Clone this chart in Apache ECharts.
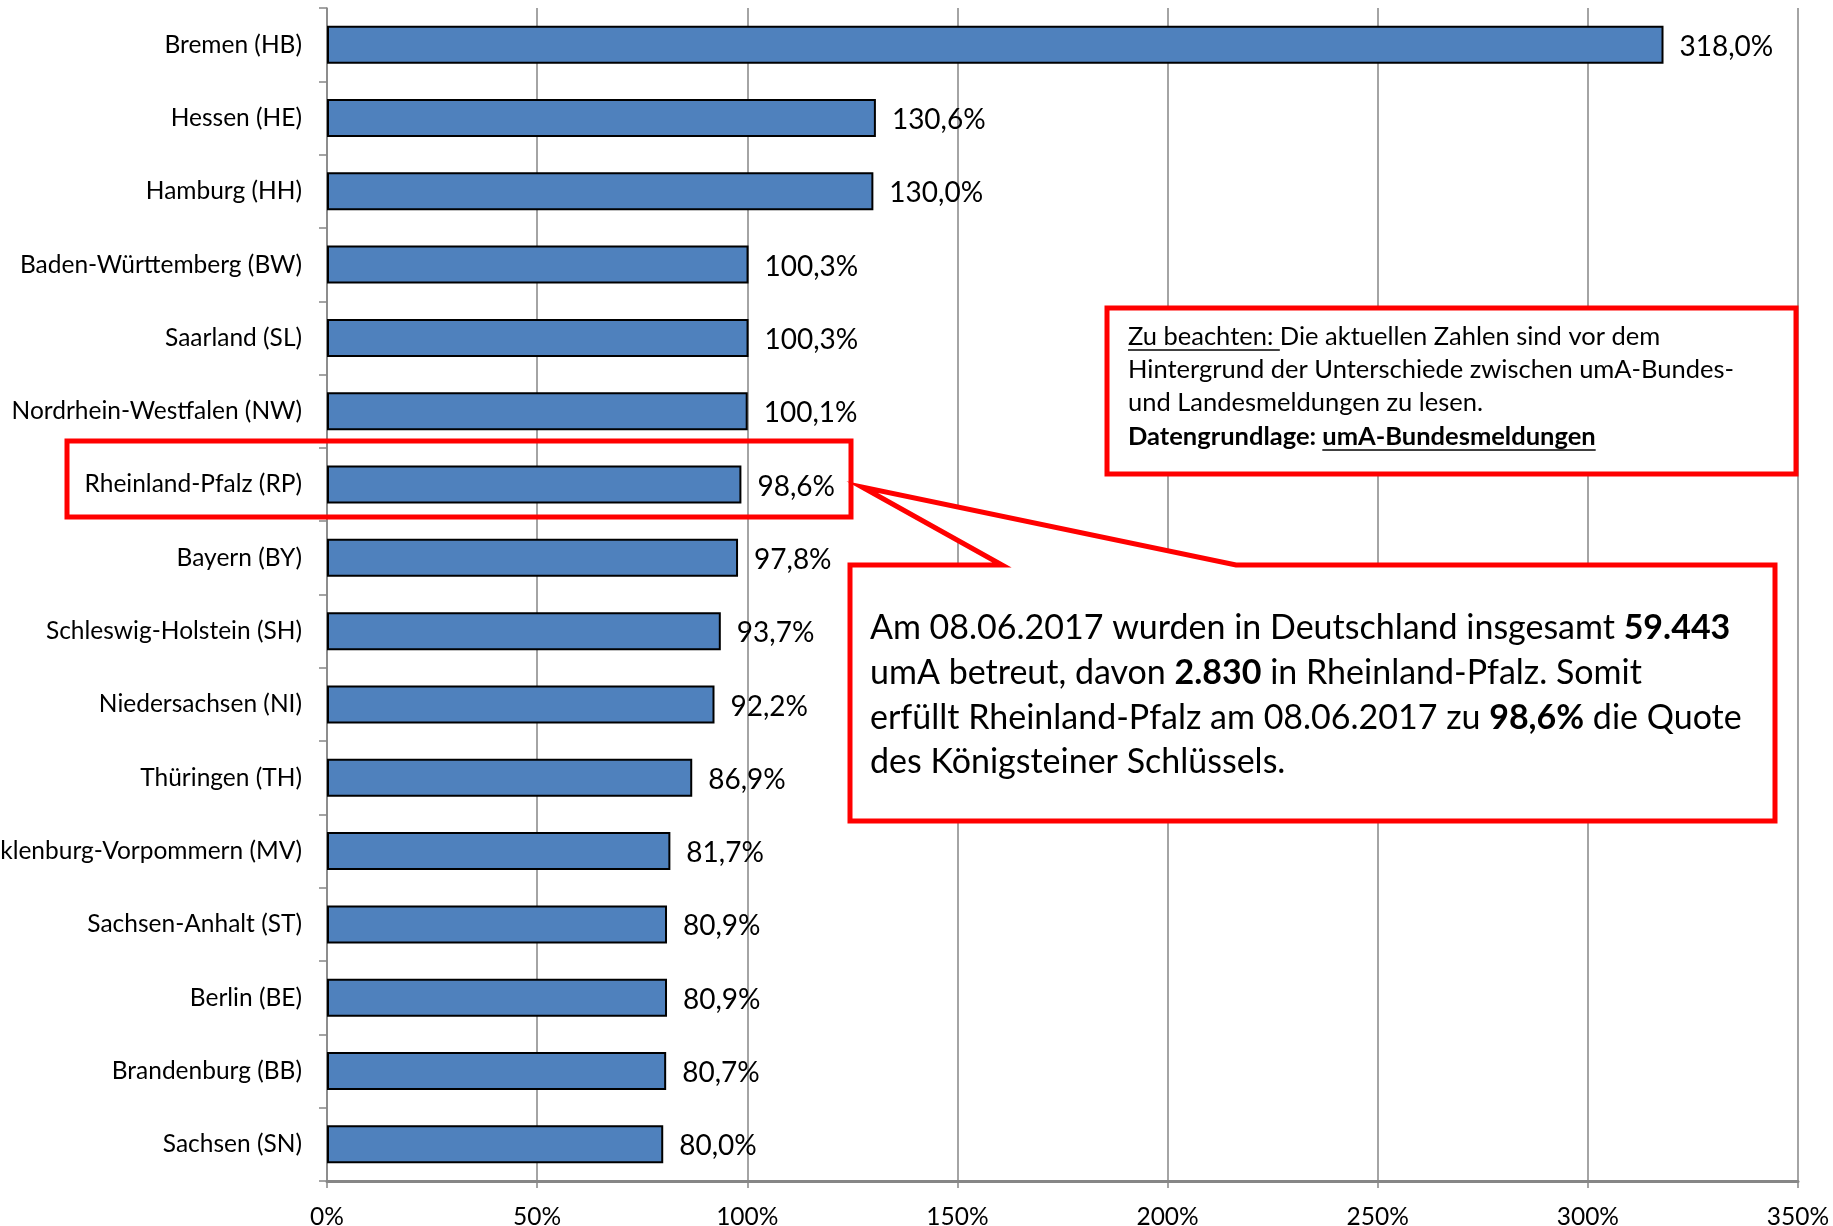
<!DOCTYPE html>
<html>
<head>
<meta charset="utf-8">
<script src="https://cdn.jsdelivr.net/npm/echarts@6/dist/echarts.min.js"></script>
<style>
html,body{margin:0;padding:0;background:#fff;}
#chart{width:1833px;height:1226px;}
</style>
</head>
<body>
<div id="chart"></div>
<script>
// Bundesländer, von oben nach unten
var laender = ['Bremen (HB)', 'Hessen (HE)', 'Hamburg (HH)', 'Baden-Württemberg (BW)', 'Saarland (SL)',
  'Nordrhein-Westfalen (NW)', 'Rheinland-Pfalz (RP)', 'Bayern (BY)', 'Schleswig-Holstein (SH)',
  'Niedersachsen (NI)', 'Thüringen (TH)', 'Mecklenburg-Vorpommern (MV)', 'Sachsen-Anhalt (ST)',
  'Berlin (BE)', 'Brandenburg (BB)', 'Sachsen (SN)'];
// Quote in %
var quote = [318.0, 130.6, 130.0, 100.3, 100.3, 100.1, 98.6, 97.8, 93.7, 92.2, 86.9, 81.7, 80.9, 80.9, 80.7, 80.0];
var xTicks = [0, 50, 100, 150, 200, 250, 300, 350];

var FONT = 'Lato';
var RED = '#ff0000';

var cv = document.createElement('canvas').getContext('2d');
function tw(str, size, weight) {
  cv.font = (weight || 'normal') + ' ' + size + 'px ' + FONT;
  return cv.measureText(str).width;
}

// Hinweis-Box (oben rechts)
var nSize = 25.5, nx = 1128;
var nY = [337, 370, 403, 437];
var zuW = tw('Zu beachten: ', nSize);
var datW = tw('Datengrundlage: ', nSize, 'bold');
var umaW = tw('umA-Bundesmeldungen', nSize, 'bold');
var noteRich = {
  b: {fontFamily: FONT, fontSize: nSize, fontWeight: 'bold', fill: '#000'}
};
function noteText(txt, y) {
  return {type: 'text', z: 20, style: {text: txt, x: nx, y: y, fontFamily: FONT, fontSize: nSize,
    fill: '#000', verticalAlign: 'middle', rich: noteRich}};
}

// Sprechblase
var cSize = 34, cx = 870;
var cY = [628, 673, 718, 762];
var cRich = {b: {fontFamily: FONT, fontSize: cSize, fontWeight: 'bold', fill: '#000'}};
var cLines = [
  'Am 08.06.2017 wurden in Deutschland insgesamt {b|59.443}',
  'umA betreut, davon {b|2.830} in Rheinland-Pfalz. Somit',
  'erfüllt Rheinland-Pfalz am 08.06.2017 zu {b|98,6%} die Quote',
  'des Königsteiner Schlüssels.'
];

var graphics = [
  // Markierung Rheinland-Pfalz
  {type: 'rect', z: 10, shape: {x: 67, y: 441, width: 784, height: 76},
    style: {fill: null, stroke: RED, lineWidth: 5}},
  // Hinweis-Box
  {type: 'rect', z: 10, shape: {x: 1107, y: 308, width: 689, height: 166},
    style: {fill: '#fff', stroke: RED, lineWidth: 5}},
  noteText('Zu beachten: Die aktuellen Zahlen sind vor dem', nY[0]),
  noteText('Hintergrund der Unterschiede zwischen umA-Bundes-', nY[1]),
  noteText('und Landesmeldungen zu lesen.', nY[2]),
  noteText('{b|Datengrundlage: umA-Bundesmeldungen}', nY[3]),
  {type: 'line', z: 20, shape: {x1: nx, y1: nY[0] + 13, x2: nx + zuW, y2: nY[0] + 13},
    style: {stroke: '#000', lineWidth: 1.5}},
  {type: 'line', z: 20, shape: {x1: nx + datW, y1: nY[3] + 13, x2: nx + datW + umaW, y2: nY[3] + 13},
    style: {stroke: '#000', lineWidth: 1.5}},
  // Sprechblase mit Zeiger
  {type: 'polygon', z: 10, shape: {points: [[850, 565], [1002, 565], [862, 487], [1236, 565],
    [1775, 565], [1775, 821], [850, 821]]},
    style: {fill: '#fff', stroke: RED, lineWidth: 5, lineJoin: 'miter'}}
];
cLines.forEach(function (t, i) {
  graphics.push({type: 'text', z: 20, style: {text: t, x: cx, y: cY[i], fontFamily: FONT,
    fontSize: cSize, fill: '#000', verticalAlign: 'middle', rich: cRich}});
});

var chart = echarts.init(document.getElementById('chart'), null, {renderer: 'canvas'});
chart.setOption({
  animation: false,
  backgroundColor: '#fff',
  grid: {left: 327, right: 35, top: 8, bottom: 45, containLabel: false, outerBoundsMode: 'none'},
  xAxis: {
    type: 'value', min: 0, max: 350, interval: 50,
    axisLine: {show: true, lineStyle: {color: '#868686', width: 3}},
    axisTick: {show: true, length: 7, lineStyle: {color: '#868686', width: 1.5}},
    axisLabel: {
      margin: 24, color: '#000', fontFamily: FONT, fontSize: 24.5,
      formatter: function (v) { return xTicks.indexOf(v) >= 0 ? v + '%' : ''; }
    },
    splitLine: {show: true, lineStyle: {color: '#868686', width: 1.5}}
  },
  yAxis: {
    type: 'category', data: laender, inverse: true,
    axisLine: {show: true, lineStyle: {color: '#868686', width: 1.5}},
    axisTick: {show: true, length: 8, lineStyle: {color: '#868686', width: 1.5}},
    axisLabel: {margin: 25, color: '#000', fontFamily: FONT, fontSize: 24.5}
  },
  series: [{
    type: 'bar',
    data: quote,
    barWidth: 38,
    itemStyle: {color: '#4f81bd', borderColor: '#000', borderWidth: 2},
    label: {
      show: true, position: 'right', distance: 16, offset: [0, 2], color: '#000',
      fontFamily: FONT, fontSize: 28,
      formatter: function (p) { return p.value.toFixed(1).replace('.', ',') + '%'; }
    }
  }],
  graphic: graphics
});
</script>
</body>
</html>
